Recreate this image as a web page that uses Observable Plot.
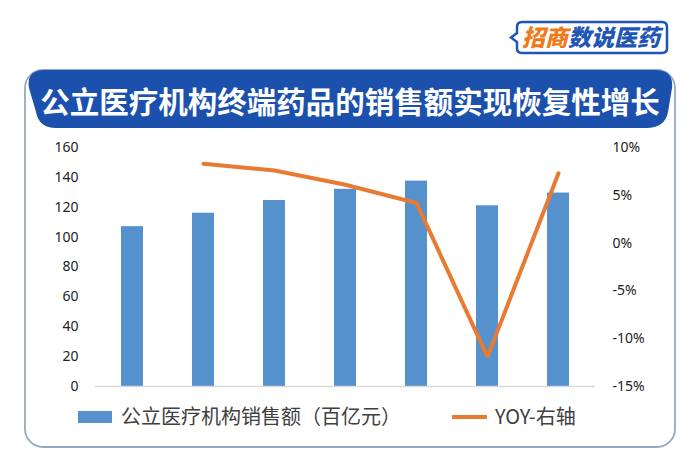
<!DOCTYPE html>
<html>
<head>
<meta charset="utf-8">
<script src="https://cdn.jsdelivr.net/npm/d3@7"></script>
<script src="https://cdn.jsdelivr.net/npm/@observablehq/plot@0.6"></script>
<style>
  html, body { margin: 0; padding: 0; background: #fff; }
  #wrap { position: relative; width: 700px; height: 472px; overflow: hidden; font-family: "Noto Sans CJK SC", "Noto Sans", sans-serif; }
  #deco { position: absolute; left: 0; top: 0; }
  #chart { position: absolute; left: 0; top: 130px; }
  .leg { position: absolute; font-size: 20px; color: #404040; line-height: 20px; white-space: nowrap; }
  .sw { position: absolute; }
</style>
</head>
<body>
<div id="wrap">
  <svg id="deco" width="700" height="472">
    <rect x="25" y="70" width="650" height="377" rx="18" fill="#fff" stroke="#93abc2" stroke-width="1.8"/>
    <path d="M 45,70 L 655,70 Q 674,70 672,88 L 668,112 Q 665,128 646,128 L 56,128 Q 39,128 36,112 L 29,88 Q 26,70 45,70 Z" fill="#1b50ad"/>
    <text id="title" x="350" y="100" text-anchor="middle" dominant-baseline="central" fill="#fff" font-size="29.5" font-weight="700" font-family="Noto Sans CJK SC"></text>
    <path d="M 522,22 H 662 Q 667,22 667,27 V 48 Q 667,53 662,53 H 522 Q 517,53 517,48 V 42 L 511,37.5 L 517,33 V 27 Q 517,22 522,22 Z" fill="#fff" stroke="#1f56b5" stroke-width="2.5"/>
    <text x="522" y="46" font-size="23" font-weight="900" font-style="italic" font-family="Noto Sans CJK SC"><tspan fill="#f07a1a">招商</tspan><tspan fill="#1f56b5">数说医药</tspan></text>
  </svg>
  <div id="chart"></div>
  <div class="sw" style="left:78px;top:411px;width:34px;height:12px;background:#5591cd"></div>
  <div class="leg" id="leg1" style="left:121px;top:406px"></div>
  <div class="sw" style="left:452px;top:415px;width:35px;height:4px;background:#e87a33"></div>
  <div class="leg" id="leg2" style="left:495px;top:406px"></div>
</div>
<script>
const titleText = "公立医疗机构终端药品的销售额实现恢复性增长";
const years = ["2015", "2016", "2017", "2018", "2019", "2020", "2021"];
const sales = [107, 116, 124.5, 132, 137.5, 121, 129.5];
const yoy = [null, 8.3, 7.6, 6.1, 4.2, -11.9, 7.3];
const leftTicks = [0, 20, 40, 60, 80, 100, 120, 140, 160];
const rightTicks = [-15, -10, -5, 0, 5, 10];
const seriesBar = "公立医疗机构销售额（百亿元）";
const seriesLine = "YOY-右轴";

document.getElementById("title").textContent = titleText;
document.getElementById("leg1").textContent = seriesBar;
document.getElementById("leg2").textContent = seriesLine;

const leftMax = 160, pMin = -15, pMax = 10;
const toLeft = p => (p - pMin) / (pMax - pMin) * leftMax;

const barData = years.map((y, i) => ({year: y, sales: sales[i]}));
const lineData = years.map((y, i) => ({year: y, yoy: yoy[i]})).filter(d => d.yoy != null);

const chart = Plot.plot({
  width: 700,
  height: 270,
  marginTop: 17,
  marginBottom: 14,
  marginLeft: 95,
  marginRight: 105,
  style: {fontFamily: "Noto Sans, sans-serif", fontSize: "14px", color: "#222", background: "transparent"},
  x: {domain: years, paddingInner: 0.69, paddingOuter: 0.345, axis: null},
  y: {domain: [0, leftMax], axis: null},
  marks: [
    Plot.barY(barData, {x: "year", y: "sales", fill: "#5591cd"}),
    Plot.ruleY([0], {stroke: "#d9d9d9", strokeWidth: 1.5}),
    Plot.line(lineData, {x: "year", y: d => toLeft(d.yoy), stroke: "#e87a33", strokeWidth: 4, strokeLinejoin: "miter", strokeLinecap: "round"}),
    Plot.axisY(leftTicks, {anchor: "left", tickSize: 0, tickPadding: 17, label: null, fontSize: 14, fill: "#222"}),
    Plot.axisY(rightTicks.map(toLeft), {anchor: "right", tickSize: 0, tickPadding: 17, label: null, fontSize: 14, fill: "#222",
      tickFormat: v => Math.round(v / leftMax * (pMax - pMin) + pMin) + "%"})
  ]
});
document.getElementById("chart").appendChild(chart);
</script>
</body>
</html>
